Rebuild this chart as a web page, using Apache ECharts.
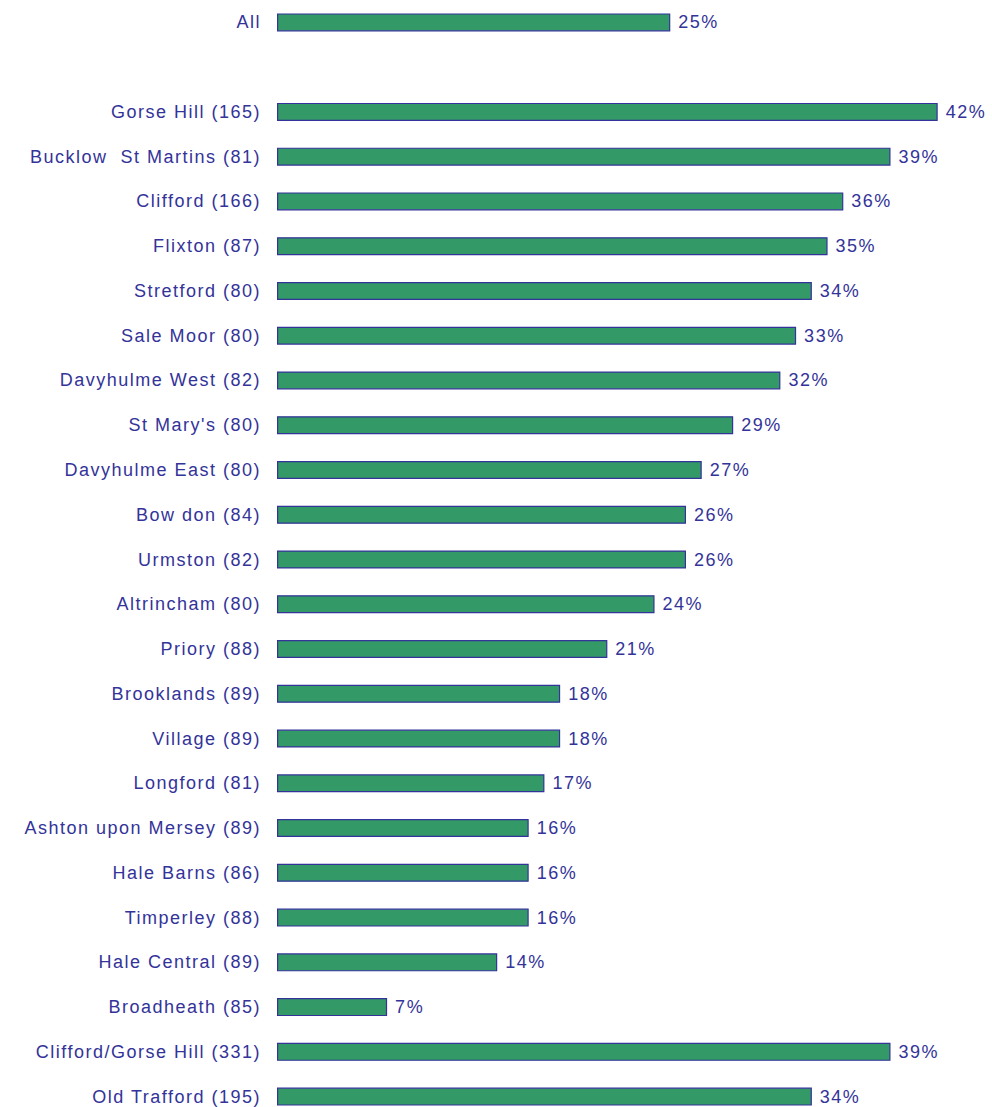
<!DOCTYPE html>
<html>
<head>
<meta charset="utf-8">
<script src="https://cdn.jsdelivr.net/npm/echarts@6/dist/echarts.min.js"></script>
<style>
html,body{margin:0;padding:0;background:#fff;}
#chart{width:992px;height:1107px;}
#chart text{letter-spacing:1.5px;}
</style>
</head>
<body>
<div id="chart"></div>
<script>
var categories = ['All', '', 'Gorse Hill (165)', 'Bucklow  St Martins (81)', 'Clifford (166)', 'Flixton (87)',
  'Stretford (80)', 'Sale Moor (80)', 'Davyhulme West (82)', "St Mary's (80)", 'Davyhulme East (80)',
  'Bow don (84)', 'Urmston (82)', 'Altrincham (80)', 'Priory (88)', 'Brooklands (89)', 'Village (89)',
  'Longford (81)', 'Ashton upon Mersey (89)', 'Hale Barns (86)', 'Timperley (88)', 'Hale Central (89)',
  'Broadheath (85)', 'Clifford/Gorse Hill (331)', 'Old Trafford (195)'];
var values = [25, '-', 42, 39, 36, 35, 34, 33, 32, 29, 27, 26, 26, 24, 21, 18, 18, 17, 16, 16, 16, 14, 7, 39, 34];

var TEXT = '#333399';
var FONT = 'Liberation Sans, Arial, sans-serif';
var chart = echarts.init(document.getElementById('chart'), null, { renderer: 'svg' });
chart.setOption({
  backgroundColor: '#ffffff',
  animation: false,
  grid: { left: 277, width: 660.7, top: 0, height: 1119, outerBoundsMode: 'none', containLabel: false },
  xAxis: {
    type: 'value', min: 0, max: 42, show: false
  },
  yAxis: {
    type: 'category', inverse: true, data: categories,
    axisLine: { show: false }, axisTick: { show: false }, splitLine: { show: false },
    axisLabel: { color: TEXT, fontSize: 18, fontFamily: FONT, margin: 16, interval: 0 }
  },
  series: [{
    type: 'bar', data: values, barWidth: 18,
    itemStyle: { color: '#339966', borderColor: '#333399', borderWidth: 1.2 },
    label: {
      show: true, position: 'right', distance: 8, formatter: '{c}%',
      color: TEXT, fontSize: 18, fontFamily: FONT
    }
  }]
});
</script>
</body>
</html>
